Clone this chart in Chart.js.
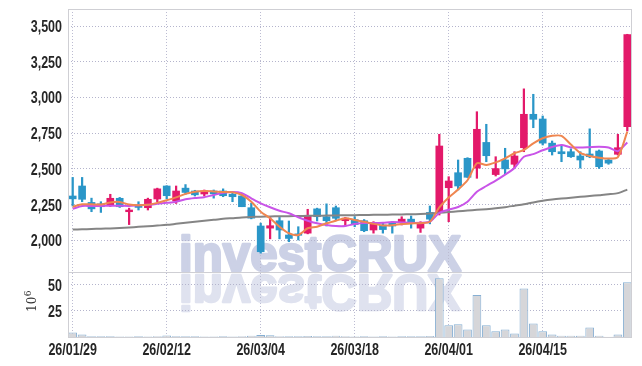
<!DOCTYPE html>
<html><head><meta charset="utf-8">
<script src="https://cdn.jsdelivr.net/npm/chart.js@4"></script>
<style>html,body{margin:0;padding:0;background:#fff}#c{display:block}</style>
</head><body>
<canvas id="c" width="642" height="366"></canvas>
<script>
const dates = ['26/01/29','26/01/30','26/02/02','26/02/03','26/02/04','26/02/05','26/02/06','26/02/09','26/02/10','26/02/11',
'26/02/12','26/02/13','26/02/19','26/02/20','26/02/23','26/02/24','26/02/25','26/02/26','26/02/27','26/03/03',
'26/03/04','26/03/05','26/03/06','26/03/09','26/03/10','26/03/11','26/03/12','26/03/13','26/03/16','26/03/17',
'26/03/18','26/03/19','26/03/20','26/03/23','26/03/24','26/03/25','26/03/26','26/03/27','26/03/30','26/03/31',
'26/04/01','26/04/02','26/04/03','26/04/06','26/04/07','26/04/08','26/04/09','26/04/10','26/04/13','26/04/14',
'26/04/15','26/04/16','26/04/17','26/04/20','26/04/21','26/04/22','26/04/23','26/04/24','26/04/27','26/04/28'];

const openP  = [2310,2380,2265,2255,2247,2294,2200,2247,2228,2289, 2380,2275,2365,2345,2324,2345,2345,2322,2310,2228,
                2100,2085,2137,2037,2045,2050,2220,2165,2228,2137, 2145,2137,2072,2107,2125,2130,2148,2085,2195,2200,
                2368,2473,2574,2505,2685,2460,2562,2532,2648,2882, 2849,2680,2620,2620,2590,2604,2625,2562,2602,2795];
const highP  = [2440,2440,2295,2270,2322,2300,2225,2270,2295,2365, 2382,2380,2390,2350,2352,2352,2360,2340,2318,2260,
                2120,2160,2160,2135,2095,2217,2225,2255,2240,2160, 2165,2145,2130,2120,2130,2165,2170,2130,2240,2742,
                2445,2562,2578,2900,2812,2585,2644,2620,3060,3022, 2870,2695,2667,2640,2620,2780,2632,2570,2742,3442];
const lowP   = [2240,2270,2200,2195,2237,2230,2110,2212,2212,2270, 2290,2258,2322,2310,2310,2295,2305,2270,2235,2150,
                1910,2010,2010,1990,2002,2045,2135,2100,2140,2100, 2095,2060,2050,2050,2050,2107,2085,2055,2115,2177,
                2130,2352,2440,2434,2550,2450,2460,2508,2620,2788, 2667,2597,2550,2580,2505,2578,2503,2532,2597,2765];
const closeP = [2290,2287,2220,2235,2294,2235,2212,2230,2287,2360, 2312,2345,2335,2318,2345,2325,2312,2305,2235,2155,
                1920,2102,2072,2013,2035,2170,2165,2137,2154,2155, 2110,2067,2120,2075,2100,2148,2120,2122,2148,2660,
                2415,2380,2441,2777,2592,2502,2500,2590,2882,2847, 2680,2620,2606,2585,2562,2585,2515,2540,2648,3440];

const maShort = [2235,2252,2252,2250,2265,2268,2250,2245,2248,2262, 2280,2300,2325,2340,2345,2342,2338,2336,2317,2270,
                 2200,2154,2095,2049,2037,2084,2095,2119,2137,2155, 2142,2130,2115,2104,2105,2114,2118,2120,2130,2230,
                 2300,2355,2420,2539,2527,2545,2574,2609,2632,2679, 2714,2731,2731,2670,2612,2590,2578,2572,2582,2760];
const maMid   = [2220,2240,2240,2240,2242,2242,2240,2245,2248,2255, 2262,2270,2287,2296,2302,2317,2332,2338,2330,2294,
                 2259,2231,2207,2189,2161,2137,2119,2107,2100,2100, 2114,2121,2121,2123,2128,2125,2122,2123,2130,2191,
                 2214,2233,2270,2340,2380,2418,2460,2506,2585,2603, 2630,2653,2667,2650,2649,2652,2655,2650,2624,2685];
const maLong  = [2075,2077,2079,2081,2083,2086,2090,2094,2098,2103, 2108,2115,2122,2130,2137,2143,2150,2155,2160,2163,
                 2165,2167,2168,2169,2170,2171,2172,2173,2174,2175, 2176,2177,2178,2179,2180,2181,2182,2184,2187,2192,
                 2198,2203,2208,2213,2218,2224,2232,2242,2252,2265, 2276,2285,2292,2298,2304,2310,2316,2322,2330,2355];

const volume = [4.2,2.3,0.6,0.6,0.6,0.5,0.4,0.6,0.5,0.8, 1.4,0.7,0.6,0.6,0.4,0.5,0.6,0.5,0.8,1.3,
                1.8,1.6,0.8,0.6,0.6,0.9,0.6,0.7,1.2,0.8, 0.5,0.7,0.5,0.6,0.5,0.6,0.6,0.6,1.0,56.1,
                11.3,12.2,7.1,40.1,11.3,5.5,7.1,3.3,46.5,12.9, 5.5,2.3,1.3,1.3,1.3,9.0,1.3,0.3,2.3,52.3];

const priceTicks = [2000,2250,2500,2750,3000,3250,3500];
const volumeTicks = [25,50];
const labelStep = 10;

const UP = '#e3196a', DOWN = '#2a96c8';
const candleColors = closeP.map((c,i) => c >= openP[i] ? UP : DOWN);
const wickData = lowP.map((l,i) => [l, highP[i]]);
const bodyData = openP.map((o,i) => [Math.min(o, closeP[i]), Math.max(o, closeP[i])]);

const gridColor = '#b4b4cc';
const LABEL_FONT = 'bold 16px "Liberation Sans", Arial, sans-serif';
const SQUEEZE = 0.78;

function drawLabel(ctx, text, x, y, align) {
  ctx.save();
  ctx.translate(x, y);
  ctx.scale(SQUEEZE, 1);
  ctx.font = LABEL_FONT;
  ctx.fillStyle = '#262626';
  ctx.textAlign = align;
  ctx.textBaseline = 'alphabetic';
  ctx.fillText(text, 0, 0);
  ctx.restore();
}

const framePlugin = {
  id: 'frame',
  beforeDraw(chart) {
    const ctx = chart.ctx;
    const sep = chart.scales.v.top;
    ctx.save();
    ctx.font = 'bold 50px "Liberation Sans", Arial, sans-serif';
    const text = 'investCRUX';
    const w = ctx.measureText(text).width;
    const k = 282 / w;
    ctx.textAlign = 'center';
    ctx.textBaseline = 'alphabetic';
    ctx.lineJoin = 'round';
    ctx.save();
    ctx.translate(320, sep - 1);
    ctx.scale(k, 1);
    ctx.fillStyle = '#ccd1e6';
    ctx.strokeStyle = '#ccd1e6';
    ctx.lineWidth = 2.5;
    ctx.fillText(text, 0, 0);
    ctx.strokeText(text, 0, 0);
    ctx.restore();
    ctx.save();
    ctx.translate(320, sep + 3);
    ctx.scale(k, -1);
    ctx.fillStyle = '#dfe2ef';
    ctx.strokeStyle = '#dfe2ef';
    ctx.lineWidth = 2.5;
    ctx.fillText(text, 0, 0);
    ctx.strokeText(text, 0, 0);
    ctx.restore();
    ctx.restore();
  },
  afterDraw(chart) {
    const ctx = chart.ctx;
    const a = chart.chartArea;
    const sep = chart.scales.v.top;
    ctx.save();
    ctx.strokeStyle = '#cfcfd4';
    ctx.lineWidth = 1;
    ctx.strokeRect(Math.round(a.left) + 0.5, Math.round(a.top) + 0.5, Math.round(a.right - a.left) - 1, Math.round(a.bottom - a.top));
    ctx.beginPath();
    ctx.moveTo(a.left, Math.round(sep) + 0.5);
    ctx.lineTo(a.right, Math.round(sep) + 0.5);
    ctx.stroke();
    ctx.restore();

    const ys = chart.scales.y, vs = chart.scales.v, xs = chart.scales.x;
    ys.ticks.forEach(t => drawLabel(ctx, t.value.toLocaleString('en-US'), 62, ys.getPixelForValue(t.value) + 6, 'right'));
    vs.ticks.forEach(t => drawLabel(ctx, String(t.value), 62, vs.getPixelForValue(t.value) + 6, 'right'));
    xs.ticks.forEach((t, i) => drawLabel(ctx, dates[t.value], xs.getPixelForTick(i), a.bottom + 18, 'center'));

    ctx.save();
    ctx.fillStyle = '#333';
    ctx.translate(36, 312);
    ctx.rotate(-Math.PI / 2);
    ctx.textBaseline = 'alphabetic';
    ctx.textAlign = 'left';
    ctx.font = '12px "DejaVu Serif", serif';
    ctx.fillText('10', 0, 0);
    const w10 = ctx.measureText('10').width;
    ctx.font = '9px "DejaVu Serif", serif';
    ctx.fillText('6', w10 + 0.5, -5);
    ctx.restore();
  }
};

new Chart(document.getElementById('c'), {
  type: 'bar',
  data: {
    labels: dates,
    datasets: [
      {type:'line', label:'MA short', data: maShort, yAxisID:'y', borderColor:'#ef8650', borderWidth:2, pointRadius:0, tension:0.25, order:0},
      {type:'line', label:'MA mid', data: maMid, yAxisID:'y', borderColor:'#c954e8', borderWidth:2, pointRadius:0, tension:0.25, order:0},
      {type:'line', label:'MA long', data: maLong, yAxisID:'y', borderColor:'#858585', borderWidth:2, pointRadius:0, tension:0.25, order:0},
      {label:'body', data: bodyData, yAxisID:'y', backgroundColor: candleColors, borderWidth:0, barThickness:7, grouped:false, order:1},
      {label:'wick', data: wickData, yAxisID:'y', backgroundColor: candleColors, borderWidth:0, barThickness:1.6, grouped:false, order:2},
      {label:'volume', data: volume, yAxisID:'v', backgroundColor:'#d6d6d9', borderColor:'#86afd3', borderWidth:1, barPercentage:0.93, categoryPercentage:1, grouped:false, order:3}
    ]
  },
  options: {
    responsive: false,
    animation: false,
    layout: {padding: {top: 9, right: 10, left: 0, bottom: 0}},
    plugins: {legend: {display: false}, tooltip: {enabled: false}},
    scales: {
      x: {
        type: 'category',
        offset: true,
        grid: {display: true, offset: false, color: '#bcbcd2', lineWidth: 1, drawTicks: false},
        border: {display: false, dash: [1, 2]},
        afterBuildTicks: axis => { axis.ticks = axis.ticks.filter(t => t.value % labelStep === 0); },
        ticks: {display: false, autoSkip: false, maxRotation: 0},
        afterFit: axis => { axis.height = 29; }
      },
      y: {
        type: 'linear',
        position: 'left',
        stack: 'panels',
        stackWeight: 263,
        weight: 2,
        min: 1778,
        max: 3619,
        grid: {display: true, color: gridColor, lineWidth: 1, drawTicks: false},
        border: {display: false, dash: [1, 2]},
        afterBuildTicks: axis => { axis.ticks = priceTicks.map(v => ({value: v})); },
        ticks: {display: false},
        afterFit: axis => { axis.width = 68; }
      },
      v: {
        type: 'linear',
        position: 'left',
        stack: 'panels',
        stackWeight: 65,
        weight: 1,
        min: 0,
        max: 62.2,
        grid: {display: true, color: gridColor, lineWidth: 1, drawTicks: false},
        border: {display: false, dash: [1, 2]},
        afterBuildTicks: axis => { axis.ticks = volumeTicks.map(v => ({value: v})); },
        ticks: {display: false},
        afterFit: axis => { axis.width = 68; }
      }
    }
  },
  plugins: [framePlugin]
});
</script>
</body></html>
